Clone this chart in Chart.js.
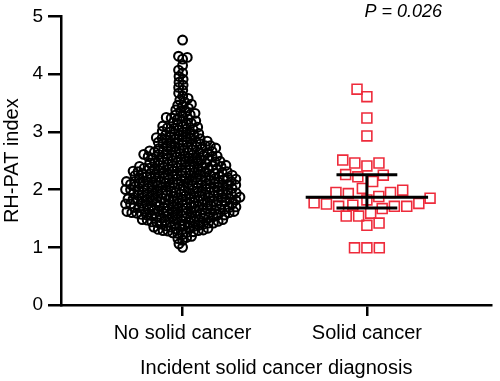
<!DOCTYPE html>
<html><head><meta charset="utf-8">
<script src="https://cdn.jsdelivr.net/npm/chart.js@4"></script>
<style>html,body{margin:0;padding:0;background:#fff;} #wrap{width:500px;height:381px;}</style>
</head><body><div id="wrap"><canvas id="c" width="500" height="381"></canvas></div>
<script>
const categories = ['No solid cancer', 'Solid cancer'];
const noSolidCancer = [
1.00,1.06,
1.12,1.15,1.17,1.19,
1.22,1.24,1.25,1.26,1.27,1.28,1.29,1.29,
1.30,1.31,1.31,1.32,1.33,1.34,1.35,1.35,1.36,1.37,1.38,1.38,1.39,
1.40,1.40,1.41,1.42,1.42,1.43,1.43,1.44,1.44,1.45,1.45,1.46,1.46,1.47,1.47,1.48,1.48,1.49,
1.50,1.50,1.51,1.51,1.52,1.52,1.53,1.53,1.54,1.54,1.55,1.55,1.56,1.56,1.56,1.57,1.57,1.58,1.58,1.59,1.59,1.59,
1.60,1.60,1.60,1.61,1.61,1.62,1.62,1.62,1.63,1.63,1.64,1.64,1.64,1.65,1.65,1.66,1.66,1.66,1.67,1.67,1.68,1.68,1.69,1.69,1.69,
1.70,1.70,1.70,1.71,1.71,1.72,1.72,1.72,1.73,1.73,1.74,1.74,1.74,1.75,1.75,1.76,1.76,1.76,1.77,1.77,1.78,1.78,1.79,1.79,1.79,
1.80,1.80,1.80,1.81,1.81,1.82,1.82,1.82,1.83,1.83,1.83,1.84,1.84,1.84,1.85,1.85,1.86,1.86,1.86,1.87,1.87,1.88,1.88,1.89,1.89,1.89,
1.90,1.90,1.90,1.91,1.91,1.92,1.92,1.92,1.93,1.93,1.93,1.94,1.94,1.95,1.95,1.95,1.96,1.96,1.97,1.97,1.97,1.98,1.98,1.99,1.99,1.99,
2.00,2.00,2.00,2.01,2.01,2.02,2.02,2.02,2.03,2.03,2.04,2.04,2.04,2.05,2.05,2.06,2.06,2.06,2.07,2.07,2.08,2.08,2.08,2.09,2.09,2.09,
2.10,2.10,2.10,2.11,2.11,2.12,2.12,2.12,2.13,2.13,2.14,2.14,2.14,2.15,2.15,2.15,2.16,2.16,2.17,2.17,2.17,2.18,2.18,2.19,2.19,2.19,
2.20,2.20,2.21,2.21,2.21,2.22,2.22,2.23,2.23,2.24,2.24,2.24,2.25,2.25,2.26,2.26,2.26,2.27,2.27,2.28,2.28,2.29,2.29,2.29,
2.30,2.30,2.31,2.31,2.32,2.32,2.33,2.33,2.34,2.34,2.35,2.35,2.36,2.36,2.37,2.37,2.38,2.38,2.38,2.39,2.39,
2.40,2.40,2.41,2.41,2.42,2.42,2.43,2.43,2.44,2.45,2.45,2.46,2.46,2.47,2.47,2.48,2.48,2.49,2.49,
2.50,2.51,2.51,2.52,2.53,2.53,2.54,2.54,2.55,2.56,2.56,2.57,2.57,2.58,2.58,2.59,2.59,
2.60,2.61,2.61,2.62,2.62,2.63,2.64,2.64,2.65,2.65,2.66,2.67,2.67,2.68,2.69,2.69,
2.70,2.71,2.71,2.72,2.73,2.74,2.74,2.75,2.76,2.76,2.77,2.78,2.79,2.79,
2.80,2.81,2.82,2.82,2.83,2.84,2.85,2.86,2.87,2.88,2.88,2.89,
2.90,2.91,2.92,2.93,2.94,2.95,2.96,2.97,2.98,2.99,
3.00,3.01,3.03,3.04,3.05,3.06,3.07,3.08,3.09,
3.10,3.12,3.14,3.15,3.16,3.18,3.19,
3.21,3.22,3.24,3.25,3.27,3.29,
3.30,3.32,3.34,3.36,3.38,
3.41,3.44,3.46,3.48,
3.52,3.55,3.58,
3.62,3.67,
3.72,3.77,
3.81,3.86,
3.91,3.96,
4.02,4.07,
4.15,
4.26,4.29,
4.31,
4.59
];
const solidCancer = [
0.99,0.99,0.99,
1.38,1.42,
1.54,1.54,1.59,
1.67,1.71,1.71,1.71,1.73,1.75,1.76,1.77,
1.82,1.85,1.88,1.93,1.95,1.95,1.99,2.02,
2.14,2.22,2.25,2.26,
2.41,2.46,2.46,2.51,
2.93,3.24,3.61,3.74
];
const yTicks = [0, 1, 2, 3, 4, 5];
const xTitle = 'Incident solid cancer diagnosis';
const yTitle = 'RH-PAT index';
const pText = 'P = 0.026';

const FONT = '"Liberation Sans", Arial, Helvetica, sans-serif';
const RED = '#ee2b3b';

function quantile(arr, p) {
  const s = [...arr].sort((a, b) => a - b);
  const pos = (s.length + 1) * p;
  const lo = Math.floor(pos), frac = pos - lo;
  const a = s[Math.min(s.length - 1, Math.max(0, lo - 1))];
  const b = s[Math.min(s.length - 1, Math.max(0, lo))];
  return a + (b - a) * frac;
}
const med = quantile(solidCancer, 0.5);
const q1 = quantile(solidCancer, 0.25);
const q3 = quantile(solidCancer, 0.75);
const medHalf = 0.332, capHalf = 0.165;

function seg(pts) {
  return { data: pts, showLine: true, borderColor: '#000', borderWidth: 3, pointRadius: 0,
           borderCapStyle: 'butt', fill: false, clip: false };
}

function swarm(values, center, d, chart) {
  const xs = chart.scales.x, ys = chart.scales.y;
  const cx = xs.getPixelForValue(center);
  const placed = [];
  const order = values.map((v, i) => i).sort((a, b) => values[a] - values[b]);
  const res = new Array(values.length);
  let flip = 1;
  for (const i of order) {
    const py = ys.getPixelForValue(values[i]);
    const near = placed.filter(p => Math.abs(p.y - py) < d);
    const cands = [0];
    for (const p of near) {
      const dx = Math.sqrt(d * d - (p.y - py) * (p.y - py));
      cands.push(p.x + dx, p.x - dx);
    }
    cands.sort((a, b) => (Math.abs(a) - Math.abs(b)) || (flip * (b - a)));
    let best = 0;
    for (const c of cands) {
      if (near.every(p => (p.x - c) * (p.x - c) + (p.y - py) * (p.y - py) >= d * d - 1e-6)) { best = c; break; }
    }
    flip = -flip;
    placed.push({ x: best, y: py });
    res[i] = { x: xs.getValueForPixel(cx + best), y: values[i] };
  }
  return res;
}

const pPlugin = {
  id: 'ptext',
  afterDraw(chart) {
    const ctx = chart.ctx;
    ctx.save();
    ctx.font = 'italic 18px ' + FONT;
    ctx.fillStyle = '#000';
    ctx.textAlign = 'right';
    ctx.textBaseline = 'middle';
    ctx.fillText(pText, 442, 12);
    ctx.restore();
  }
};

const chart = new Chart(document.getElementById('c'), {
  type: 'scatter',
  data: {
    datasets: [
      seg([{ x: 2 - medHalf, y: med }, { x: 2 + medHalf, y: med }]),
      seg([{ x: 2, y: q1 }, { x: 2, y: q3 }]),
      seg([{ x: 2 - capHalf, y: q3 }, { x: 2 + capHalf, y: q3 }]),
      seg([{ x: 2 - capHalf, y: q1 }, { x: 2 + capHalf, y: q1 }]),
      { data: solidCancer.map(v => ({ x: 2, y: v })), pointStyle: 'rect', pointRadius: 7,
        borderColor: RED, borderWidth: 1.6, backgroundColor: 'rgba(0,0,0,0)' },
      { data: noSolidCancer.map(v => ({ x: 1, y: v })), pointStyle: 'circle', pointRadius: 4.4,
        borderColor: '#000', borderWidth: 2.1, backgroundColor: 'rgba(0,0,0,0)' }
    ]
  },
  options: {
    responsive: false,
    animation: false,
    events: [],
    layout: { padding: { top: 12, right: 0, left: 0, bottom: 0 } },
    plugins: { legend: { display: false }, tooltip: { enabled: false } },
    scales: {
      x: {
        type: 'linear', min: 0.3404, max: 2.6755,
        afterBuildTicks: s => { s.ticks = categories.map((c, i) => ({ value: i + 1 })); },
        afterFit: s => { s.height = 76; },
        ticks: { callback: v => categories[Math.round(v) - 1], font: { family: FONT, size: 20 },
                 color: '#000', padding: 5, maxRotation: 0, autoSkip: false },
        grid: { drawOnChartArea: false, drawTicks: true, tickLength: 11, color: '#000', lineWidth: 2.5 },
        border: { display: true, color: '#000', width: 2.5 },
        title: { display: true, text: xTitle, font: { family: FONT, size: 20 }, color: '#000',
                 padding: { top: 0, bottom: 1 } }
      },
      y: {
        min: 0, max: 5,
        afterBuildTicks: s => { s.ticks = yTicks.map(v => ({ value: v })); },
        afterFit: s => { s.width = 61; },
        ticks: { font: { family: FONT, size: 19 }, color: '#000', padding: 5 },
        grid: { drawOnChartArea: false, drawTicks: true, tickLength: 13, color: '#000', lineWidth: 2.5 },
        border: { display: true, color: '#000', width: 2.5 },
        title: { display: true, text: yTitle, font: { family: FONT, size: 20 }, color: '#000',
                 padding: { top: 0, bottom: 0 } }
      }
    }
  },
  plugins: [pPlugin]
});

chart.data.datasets[4].data = swarm(solidCancer, 2, 12.4, chart);
chart.data.datasets[5].data = swarm(noSolidCancer, 1, 5.0, chart);
chart.update('none');
</script>
</body></html>
